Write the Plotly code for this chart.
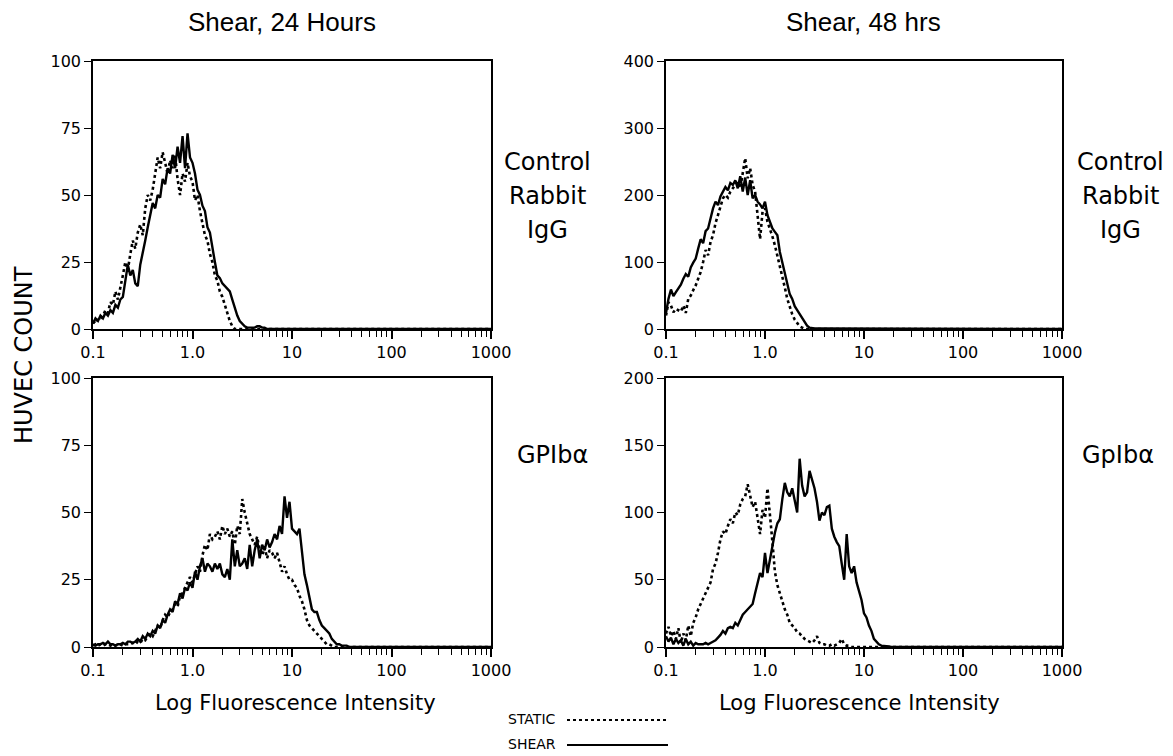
"""
Flow cytometry histograms of HUVEC under shear (24 h and 48 h):
control rabbit IgG vs GPIb-alpha staining, static (dotted) vs shear (solid).
Counts are read per channel on a log fluorescence scale (0.1 - 1000).
"""
import plotly.graph_objects as go

# Channel grid: log10 fluorescence starts at -1 (0.1), one channel every 0.025 decade,
# 161 channels up to 1000. Counts past the end of each list are baseline (0).
LOG_START = -1.0
LOG_STEP = 0.025
N_CHANNELS = 161

# --- Shear 24 h, control rabbit IgG ---
IGG24_STATIC = [3, 2, 4, 4, 5, 7, 6, 10, 9, 14, 11, 15, 20, 25, 22, 28, 33, 30, 36, 39,
                35, 45, 50, 48, 52, 58, 64, 60, 66, 62, 58, 63, 60, 65, 56, 50, 58, 55, 62, 57,
                55, 48, 50, 44, 40, 35, 33, 28, 25, 20, 18, 14, 12, 9, 6, 3, 1, 0]
IGG24_SHEAR = [2, 4, 3, 5, 4, 6, 5, 7, 6, 9, 8, 11, 12, 18, 24, 20, 22, 17, 16, 24,
               28, 33, 38, 42, 47, 45, 50, 49, 56, 54, 60, 58, 65, 60, 68, 62, 72, 60, 73, 64,
               62, 58, 52, 50, 46, 44, 38, 36, 30, 25, 20, 19, 17, 16, 15, 14, 11, 8, 5, 3,
               2, 1, 0.5, 0.5, 0.5, 0.5, 1, 1, 0.5, 0.5, 0]

# --- Shear 48 h, control rabbit IgG ---
IGG48_STATIC = [20, 40, 35, 25, 30, 28, 26, 35, 24, 45, 50, 58, 65, 75, 85, 100, 118, 110, 130, 140,
                158, 170, 182, 195, 200, 196, 205, 210, 214, 220, 210, 235, 255, 225, 240, 215, 205, 170, 134, 175,
                180, 160, 150, 138, 125, 110, 95, 80, 62, 45, 32, 22, 14, 8, 4, 2, 0]
IGG48_SHEAR = [24, 45, 59, 49, 55, 60, 66, 75, 82, 78, 92, 99, 105, 120, 134, 128, 146, 150, 165, 180,
               190, 185, 198, 205, 212, 207, 218, 215, 222, 210, 228, 205, 226, 200, 222, 195, 200, 190, 186, 180,
               190, 170, 160, 150, 145, 140, 115, 100, 84, 70, 52, 45, 34, 28, 22, 15, 10, 5, 2, 1,
               1, 1, 1, 1, 1, 1, 1, 1, 1, 1, 1, 1, 1, 1, 1, 1, 1, 1, 1, 1]

# --- Shear 24 h, GPIb-alpha ---
GP24_STATIC = [0.5, 1, 0.5, 1, 0.5, 1, 1, 0.5, 1, 0.5, 1, 1, 0.5, 1, 1, 1, 1.5, 1, 2, 1.5,
               3, 2.5, 4, 5, 4, 6, 8, 7, 10, 12, 11, 13, 14, 16, 15, 19, 20, 22, 24, 26,
               24, 27, 30, 28, 34, 38, 36, 42, 40, 41, 43, 40, 45, 42, 44, 41, 43, 38, 45, 42,
               55, 50, 46, 42, 40, 38, 41, 36, 34, 37, 33, 36, 35, 33, 35, 31, 28, 30, 27, 25,
               25, 23, 22, 19, 17, 14, 10, 8, 7, 6, 5, 4, 3, 2, 1, 1, 0.5, 0]
GP24_SHEAR = [1, 0.5, 1, 1, 1.5, 1, 2, 1, 1, 0.5, 1, 1, 1.5, 1, 2, 2, 1.5, 2, 3, 2,
              4, 3, 5, 4, 6, 5, 8, 7, 10, 9, 12, 14, 13, 17, 16, 20, 18, 22, 21, 24,
              22, 28, 25, 30, 33, 28, 31, 30, 28, 31, 29, 31, 27, 26, 29, 25, 40, 30, 36, 30,
              31, 33, 29, 38, 30, 36, 40, 33, 38, 36, 40, 37, 39, 42, 40, 45, 42, 56, 48, 54,
              44, 43, 42, 44, 35, 27, 23, 18, 14, 13, 13, 10, 8, 7, 6, 5, 3, 2, 1, 1,
              0.5, 0.5, 0.5, 0]

# --- Shear 48 h, GpIb-alpha ---
GP48_STATIC = [10, 15, 8, 12, 6, 14, 3, 10, 5, 16, 8, 18, 22, 28, 32, 36, 40, 44, 48, 58,
               62, 70, 80, 86, 84, 90, 95, 92, 100, 98, 106, 110, 112, 121, 112, 104, 108, 96, 84, 102,
               96, 118, 100, 78, 56, 46, 40, 34, 28, 24, 18, 16, 14, 11, 10, 8, 6, 5, 4, 3,
               5, 8, 3, 2, 2, 1, 1, 2, 1, 2, 3, 6, 2, 1, 1, 0]
GP48_SHEAR = [8, 4, 7, 2, 6, 3, 5, 1, 6, 2, 4, 1, 3, 2, 2, 2, 3, 2, 3, 4,
              5, 7, 9, 12, 10, 14, 15, 14, 18, 16, 20, 24, 26, 28, 30, 32, 40, 48, 55, 52,
              70, 55, 65, 78, 85, 92, 95, 110, 122, 115, 112, 118, 108, 100, 140, 120, 112, 115, 131, 125,
              118, 108, 94, 100, 98, 104, 105, 88, 82, 78, 75, 62, 50, 84, 60, 55, 60, 48, 42, 35,
              25, 22, 16, 12, 6, 4, 2, 1, 1, 0.5, 0.5, 0]

# Panels: (static, shear, y max, y tick step, row, col)
PANELS = [
    (IGG24_STATIC, IGG24_SHEAR, 100, 25, 1, 1),
    (IGG48_STATIC, IGG48_SHEAR, 400, 100, 1, 2),
    (GP24_STATIC, GP24_SHEAR, 100, 25, 2, 1),
    (GP48_STATIC, GP48_SHEAR, 200, 50, 2, 2),
]

X_MAJOR = [0.1, 1, 10, 100, 1000]
X_MAJOR_TEXT = ["0.1", "1.0", "10", "100", "1000"]
X_MINOR = [m * 10.0 ** e for e in (-1, 0, 1, 2) for m in range(2, 10)]

COL_TITLES = ["Shear, 24 Hours", "Shear, 48 hrs"]
ROW_LABELS = [["Control", "Rabbit", "IgG"], ["GPIbα"], ["Control", "Rabbit", "IgG"], ["GpIbα"]]

# page is 1173x756; the html body adds an 8px margin, so the figure starts at (8, 8)
PAGE_W, PAGE_H = 1173, 756
BODY = 8
W, H = PAGE_W - 2 * BODY, PAGE_H - BODY
FONT = "DejaVu Sans, Verdana, sans-serif"
TITLE_FONT = "Liberation Sans, Arial, Helvetica, sans-serif"

# pixel boxes of the panels in the reference page (left, right, top, bottom)
COL_PX = [(93, 491), (666, 1062)]
ROW_PX = [(61, 329), (378, 647)]


def channels(counts):
    vals = list(counts) + [0] * (N_CHANNELS - len(counts))
    xs = [10 ** (LOG_START + LOG_STEP * k) for k in range(N_CHANNELS)]
    return xs, vals


def px(x):
    return (x - BODY) / W


def py(y):
    return 1 - (y - BODY) / H


fig = go.Figure()
for i, (static, shear, ymax, ystep, row, col) in enumerate(PANELS):
    n = i + 1
    xa = "x" if n == 1 else f"x{n}"
    ya = "y" if n == 1 else f"y{n}"
    xs, ys = channels(static)
    fig.add_trace(go.Scatter(x=xs, y=ys, mode="lines", xaxis=xa, yaxis=ya,
                             line=dict(color="black", width=2.6, dash="dot"),
                             showlegend=False))
    xs, ys = channels(shear)
    fig.add_trace(go.Scatter(x=xs, y=ys, mode="lines", xaxis=xa, yaxis=ya,
                             line=dict(color="black", width=2.4),
                             showlegend=False))

    l, r = COL_PX[col - 1]
    t, b = ROW_PX[row - 1]
    axis_common = dict(showline=True, linecolor="black", linewidth=1.5, mirror=True,
                       showgrid=False, zeroline=False, ticks="outside", tickcolor="black",
                       automargin=False,
                       tickfont=dict(family=FONT, size=16, color="black"))
    fig.layout[f"xaxis{'' if n == 1 else n}"] = dict(
        type="log", range=[-1, 3], domain=[px(l), px(r)], anchor=ya,
        tickmode="array", tickvals=X_MAJOR, ticktext=X_MAJOR_TEXT, ticklen=8, tickwidth=1.5,
        minor=dict(tickmode="array", tickvals=X_MINOR, ticks="outside", ticklen=6,
                   tickwidth=1.2, tickcolor="black"),
        **axis_common)
    fig.layout[f"yaxis{'' if n == 1 else n}"] = dict(
        range=[0, ymax], domain=[py(b), py(t)], anchor=xa,
        tickmode="linear", tick0=0, dtick=ystep, ticklen=7, tickwidth=1,
        **axis_common)

ann = []
for title, cx in zip(COL_TITLES, (282, 863)):
    ann.append(dict(text=title, x=px(cx), y=py(22), font=dict(size=26, family=TITLE_FONT)))
for cx in (295, 859):
    ann.append(dict(text="Log Fluorescence Intensity", x=px(cx), y=py(703), font=dict(size=21)))

label_pos = [(547, 196), (552, 455), (1120, 196), (1118, 455)]
for (lx, ly), lines in zip(label_pos, ROW_LABELS):
    off = (len(lines) - 1) / 2
    for j, line in enumerate(lines):
        ann.append(dict(text=line, x=px(lx), y=py(ly + (j - off) * 34), font=dict(size=24)))

ann.append(dict(text="HUVEC COUNT", x=px(24), y=py(355), textangle=-90, font=dict(size=24)))
ann.append(dict(text="STATIC", x=px(558), y=py(719), xanchor="right", font=dict(size=14)))
ann.append(dict(text="SHEAR", x=px(558), y=py(744), xanchor="right", font=dict(size=14)))
for a in ann:
    a.setdefault("xanchor", "center")
    a.update(xref="paper", yref="paper", yanchor="middle", showarrow=False)
    a["font"].setdefault("family", FONT)
    a["font"].update(color="black")

shapes = [
    dict(type="line", xref="paper", yref="paper", x0=px(567), x1=px(668), y0=py(720), y1=py(720),
         line=dict(color="black", width=2, dash="dot")),
    dict(type="line", xref="paper", yref="paper", x0=px(567), x1=px(668), y0=py(745), y1=py(745),
         line=dict(color="black", width=2.2)),
]

fig.update_layout(
    width=W, height=H, margin=dict(l=0, r=0, t=0, b=0),
    paper_bgcolor="white", plot_bgcolor="white",
    font=dict(family=FONT, color="black"),
    annotations=ann, shapes=shapes, showlegend=False,
)

fig.write_html("out.html")
